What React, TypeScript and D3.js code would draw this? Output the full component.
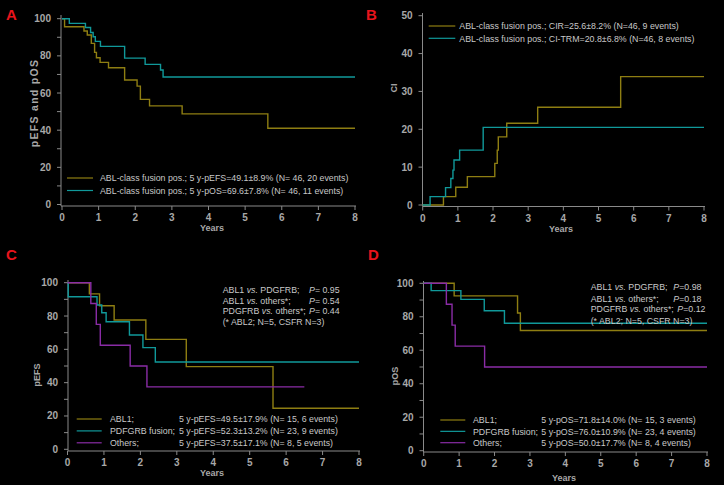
import React from "react";
import * as d3 from "d3";

// ---------- Data ----------
const yearTicks = [0, 1, 2, 3, 4, 5, 6, 7, 8];
const pctTicks = [0, 20, 40, 60, 80, 100];
const pctMinor = [10, 30, 50, 70, 90];
const ciTicks = [0, 10, 20, 30, 40, 50];

// Panel A
const aEfsT = [0, 0.07, 0.6, 0.69, 0.8, 0.89, 0.94, 1.04, 1.27, 1.71, 2.05, 2.14, 2.39, 3.28, 5.62, 8];
const aEfsV = [100, 95.7, 93.4, 91.2, 86.7, 81.9, 79, 76.5, 73.6, 67, 63.7, 56.6, 53.1, 48.8, 41, 41];
const aOsT = [0, 0.2, 0.64, 0.78, 0.85, 0.91, 1.05, 1.71, 2.27, 2.69, 2.76, 8];
const aOsV = [100, 97.5, 95.3, 92.6, 90.3, 87.8, 85.1, 78.8, 75.4, 72.4, 68.6, 68.6];

// Panel B
const bCirT = [0, 0.59, 0.94, 1.27, 2.05, 2.12, 2.15, 2.39, 3.27, 5.63, 8];
const bCirV = [0, 2.2, 4.7, 7.5, 11, 14.5, 18, 21.6, 25.8, 33.9, 33.9];
const bTrmT = [0, 0.21, 0.65, 0.8, 0.86, 0.89, 1.05, 1.72, 8];
const bTrmV = [0, 2.2, 4.6, 7, 9.2, 11.9, 14.5, 20.5, 20.5];

// Panel C
const cAblT = [0, 0.6, 0.88, 1.28, 2.15, 3.26, 5.64, 8];
const cAblV = [100, 93.3, 86.2, 77.6, 66, 49.6, 24.6, 24.6];
const cPdgT = [0, 0.02, 0.81, 0.94, 1.06, 1.7, 2.07, 2.41, 8];
const cPdgV = [100, 91.6, 86.6, 82, 76.6, 68.6, 61, 52.4, 52.4];
const cOthT = [0, 0.64, 0.79, 0.9, 1.72, 2.18, 6.5];
const cOthV = [100, 87.5, 75, 62.5, 50, 37.5, 37.5];

// Panel D
const dAblT = [0, 0.86, 2.65, 2.73, 8];
const dAblV = [100, 92.5, 82.3, 71.8, 71.8];
const dPdgT = [0, 0.21, 1.05, 1.71, 2.28, 8];
const dPdgV = [100, 95.6, 90.4, 83.6, 76.1, 76.1];
const dOthT = [0, 0.64, 0.8, 0.89, 1.72, 8];
const dOthV = [100, 87.5, 75, 62.5, 50, 50];

// Legend / annotation texts
const aLegend = [
  "ABL-class fusion pos.; 5 y-pEFS=49.1\u00b18.9% (N= 46, 20 events)",
  "ABL-class fusion pos.; 5 y-pOS=69.6\u00b17.8% (N= 46, 11 events)",
];
const bLegend = [
  "ABL-class fusion pos.; CIR=25.6\u00b18.2% (N=46, 9 events)",
  "ABL-class fusion pos.; CI-TRM=20.8\u00b16.8% (N=46, 8 events)",
];
const groupNames = ["ABL1;", "PDFGRB fusion;", "Others;"];
const cStats = [
  "5 y-pEFS=49.5\u00b117.9% (N= 15, 6 events)",
  "5 y-pEFS=52.3\u00b113.2% (N= 23, 9 events)",
  "5 y-pEFS=37.5\u00b117.1% (N= 8, 5 events)",
];
const dStats = [
  "5 y-pOS=71.8\u00b114.0% (N= 15, 3 events)",
  "5 y-pOS=76.0\u00b110.9% (N= 23, 4 events)",
  "5 y-pOS=50.0\u00b117.7% (N= 8, 4 events)",
];
const cPvals = ["= 0.95", "= 0.54", "= 0.44"];
const dPvals = ["=0.98", "=0.18", "=0.12"];

const GOLD = "#8e7e12";
const TEAL = "#10999a";
const PURPLE = "#8a2ca6";
const AXIS = "#8a8a8a";
const TICKTXT = "#a8a8a8";
const TXT = "#c8c8c8";
const FONT = "'Liberation Sans', Arial, sans-serif";
const SMALL = 8.8;

type Series = { t: number[]; v: number[]; color: string };

type PanelProps = {
  letter: string;
  letterX: number;
  letterY: number;
  xr: [number, number];
  yr: [number, number];
  ymax: number;
  yTicks: number[];
  yMinor: number[];
  axisTop: number;
  axisY: number;
  axisX: number;
  ylabel: string;
  ylabelX: number;
  ylabelY: number;
  ylabelSize?: number;
  ylabelSpacing?: number;
  yearsX: number;
  yearsY: number;
  series: Series[];
};

function Panel(p: PanelProps) {
  const x = d3.scaleLinear().domain([0, 8]).range(p.xr);
  const y = d3.scaleLinear().domain([0, p.ymax]).range(p.yr);
  const line = d3
    .line<[number, number]>()
    .x((d) => x(d[0]))
    .y((d) => y(d[1]))
    .curve(d3.curveStepAfter);
  return (
    <g>
      <text x={p.letterX} y={p.letterY} fill="#e8141c" fontSize={15} fontWeight="bold"
        fontFamily="'Liberation Sans Narrow', 'Liberation Sans', sans-serif">{p.letter}</text>
      {/* y axis */}
      <line x1={p.axisX} x2={p.axisX} y1={p.axisTop} y2={p.axisY} stroke={AXIS} strokeWidth={1} />
      {p.yTicks.map((t) => (
        <g key={"yt" + t}>
          <line x1={p.axisX - 4} x2={p.axisX} y1={y(t)} y2={y(t)} stroke={AXIS} />
          <text x={p.axisX - 10} y={y(t) + 3.5} fill={TICKTXT} fontSize={10} fontWeight="bold"
            textAnchor="end" fontFamily={FONT}>{t}</text>
        </g>
      ))}
      {p.yMinor.map((t) => (
        <line key={"ym" + t} x1={p.axisX - 4} x2={p.axisX} y1={y(t)} y2={y(t)} stroke={AXIS} />
      ))}
      {/* x axis */}
      <line x1={p.axisX} x2={x(8) + 1} y1={p.axisY} y2={p.axisY} stroke={AXIS} strokeWidth={1} />
      {yearTicks.map((t) => (
        <g key={"xt" + t}>
          <line x1={x(t)} x2={x(t)} y1={p.axisY} y2={p.axisY + 4} stroke={AXIS} />
          <text x={x(t)} y={p.axisY + 15} fill={TICKTXT} fontSize={10} fontWeight="bold"
            textAnchor="middle" fontFamily={FONT}>{t}</text>
        </g>
      ))}
      <text x={p.yearsX} y={p.yearsY} fill={TICKTXT} fontSize={9} fontWeight="bold"
        textAnchor="middle" fontFamily={FONT}>Years</text>
      <text transform={`translate(${p.ylabelX},${p.ylabelY}) rotate(-90)`} fill={TICKTXT}
        fontSize={p.ylabelSize || 9} fontWeight="bold" textAnchor="middle" fontFamily={FONT}
        letterSpacing={p.ylabelSpacing || 0}>{p.ylabel}</text>
      {p.series.map((s, i) => (
        <path key={"s" + i} d={line(s.t.map((t, j) => [t, s.v[j]]) as [number, number][]) || ""}
          fill="none" stroke={s.color} strokeWidth={1.4} />
      ))}
    </g>
  );
}

function LegendRow({ x1, x2, y, color, textX, text, statX, stat }: any) {
  return (
    <g>
      <line x1={x1} x2={x2} y1={y} y2={y} stroke={color} strokeWidth={1.2} />
      <text x={textX} y={y + 3.2} fill={TXT} fontSize={SMALL} fontFamily={FONT}>{text}</text>
      {stat && (
        <text x={statX} y={y + 3.2} fill={TXT} fontSize={SMALL} fontFamily={FONT}>{stat}</text>
      )}
    </g>
  );
}

function Annot({ x, ys, px, pvals, px3 }: any) {
  return (
    <g fill={TXT} fontSize={SMALL} fontFamily={FONT}>
      <text x={x} y={ys[0]}>ABL1 <tspan fontStyle="italic">vs.</tspan> PDGFRB;</text>
      <text x={px} y={ys[0]}><tspan fontStyle="italic">P</tspan>{pvals[0]}</text>
      <text x={x} y={ys[1]}>ABL1 <tspan fontStyle="italic">vs.</tspan> others*;</text>
      <text x={px} y={ys[1]}><tspan fontStyle="italic">P</tspan>{pvals[1]}</text>
      <text x={x} y={ys[2]}>PDGFRB <tspan fontStyle="italic">vs.</tspan> others*;</text>
      <text x={px3} y={ys[2]}><tspan fontStyle="italic">P</tspan>{pvals[2]}</text>
      <text x={x} y={ys[3]}>(* ABL2; N=5, CSFR N=3)</text>
    </g>
  );
}

export default function App() {
  const colors3 = [GOLD, TEAL, PURPLE];
  return (
    <svg width={724} height={485} style={{ position: "fixed", left: 0, top: 0, background: "#000" }}>
      <rect x={0} y={0} width={724} height={485} fill="#000" />
      {/* A */}
      <Panel letter="A" letterX={6} letterY={20} xr={[62, 355]} yr={[204.5, 18.7]} ymax={100}
        yTicks={pctTicks} yMinor={pctMinor} axisTop={15} axisY={206} axisX={61}
        ylabel="pEFS and pOS" ylabelX={37.5} ylabelY={103} ylabelSize={10.5} ylabelSpacing={1.3}
        yearsX={212} yearsY={230.5}
        series={[{ t: aEfsT, v: aEfsV, color: GOLD }, { t: aOsT, v: aOsV, color: TEAL }]} />
      {aLegend.map((s, i) => (
        <LegendRow key={"la" + i} x1={67} x2={93} y={178 + i * 12.5} color={[GOLD, TEAL][i]} textX={100} text={s} />
      ))}
      {/* B */}
      <Panel letter="B" letterX={366} letterY={20} xr={[422.7, 704]} yr={[205, 15.7]} ymax={50}
        yTicks={ciTicks} yMinor={[]} axisTop={13} axisY={206.5} axisX={422.5}
        ylabel="CI" ylabelX={397} ylabelY={88} yearsX={561} yearsY={232}
        series={[{ t: bCirT, v: bCirV, color: GOLD }, { t: bTrmT, v: bTrmV, color: TEAL }]} />
      {bLegend.map((s, i) => (
        <LegendRow key={"lb" + i} x1={428.7} x2={455.3} y={26 + i * 12.3} color={[GOLD, TEAL][i]} textX={459.3} text={s} />
      ))}
      {/* C */}
      <Panel letter="C" letterX={6} letterY={260} xr={[67.5, 359]} yr={[449.3, 282.7]} ymax={100}
        yTicks={pctTicks} yMinor={pctMinor} axisTop={280} axisY={451} axisX={68}
        ylabel="pEFS" ylabelX={40} ylabelY={375} yearsX={212} yearsY={476}
        series={[{ t: cAblT, v: cAblV, color: GOLD }, { t: cPdgT, v: cPdgV, color: TEAL }, { t: cOthT, v: cOthV, color: PURPLE }]} />
      <Annot x={222.7} ys={[292.5, 303.5, 314, 325]} px={309} px3={309} pvals={cPvals} />
      {groupNames.map((g, i) => (
        <LegendRow key={"lc" + i} x1={76.7} x2={101.7} y={419 + i * 11.9} color={colors3[i]} textX={110}
          text={g} statX={179} stat={cStats[i]} />
      ))}
      {/* D */}
      <Panel letter="D" letterX={368} letterY={260} xr={[423.7, 707]} yr={[450.7, 283.3]} ymax={100}
        yTicks={pctTicks} yMinor={pctMinor} axisTop={281} axisY={452} axisX={423.5}
        ylabel="pOS" ylabelX={397.5} ylabelY={376} yearsX={564} yearsY={480.5}
        series={[{ t: dAblT, v: dAblV, color: GOLD }, { t: dPdgT, v: dPdgV, color: TEAL }, { t: dOthT, v: dOthV, color: PURPLE }]} />
      <Annot x={590.7} ys={[290, 301.5, 312, 323.5]} px={673.3} px3={677.3} pvals={dPvals} />
      {groupNames.map((g, i) => (
        <LegendRow key={"ld" + i} x1={440.3} x2={465.3} y={420 + i * 11.35} color={colors3[i]} textX={473}
          text={g} statX={541.3} stat={dStats[i]} />
      ))}
    </svg>
  );
}
